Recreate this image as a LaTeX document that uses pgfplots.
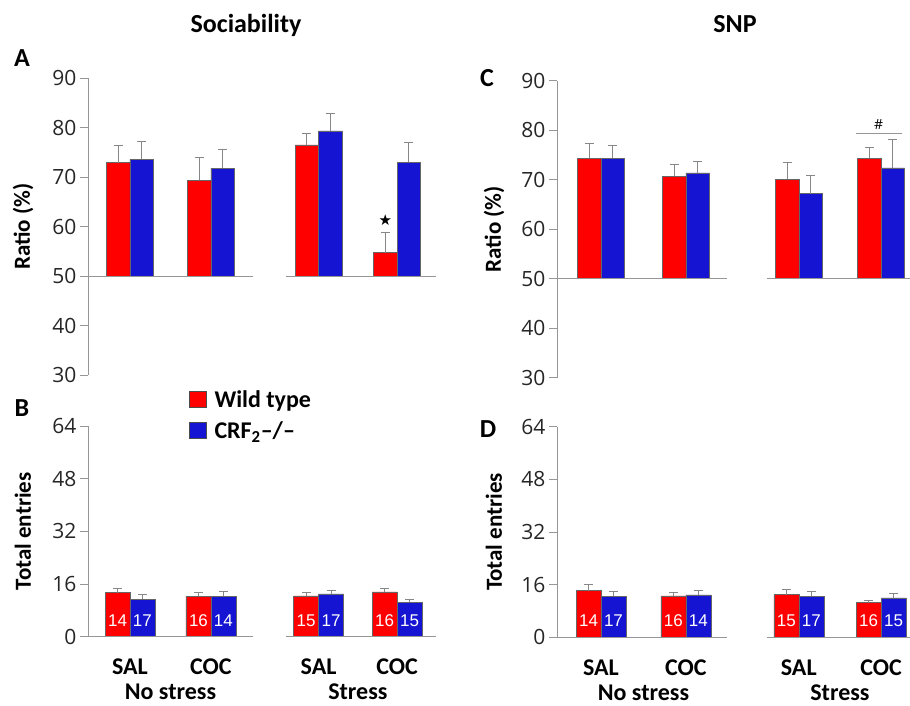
\documentclass[border=0pt]{standalone}
\usepackage{pgfplots}
\pgfplotsset{compat=1.18}
\usepackage{fontspec}
\setmainfont{Carlito}
\newfontfamily\tickfont{Open Sans}
\newfontfamily\numfont{Liberation Sans}
\newfontfamily\symfont{DejaVu Sans}
\definecolor{wt}{RGB}{255,0,0}
\definecolor{ko}{RGB}{20,20,210}
\definecolor{ax}{RGB}{150,150,150}
\definecolor{eb}{RGB}{135,135,135}
\pgfplotsset{
  panel/.style={
    scale only axis, anchor=south west, clip=false,
    axis x line=bottom, axis y line=left,
    x axis line style={draw=none},
    y axis line style={ax, line width=0.8pt, -},
    ytick style={ax, line width=0.8pt},
    xtick style={draw=none},
    tick align=outside, major tick length=8pt,
    /pgf/number format/assume math mode=true,
    yticklabel style={font=\tickfont\fontsize{21}{21}\selectfont, text=black!85},
    xticklabel style={font=\bfseries\fontsize{24}{24}\selectfont, anchor=base, yshift=-30pt},
    extra x tick style={tick label style={yshift=-25pt}},
    every axis y label/.style={at={([xshift=-65pt]rel axis cs:0,0.5)}, rotate=90, anchor=center, font=\bfseries\fontsize{23}{23}\selectfont},
    legend image code/.code={\draw[#1, draw=black!70, line width=0.6pt] (0pt,-8pt) rectangle (17pt,8pt);},
  },
  wtbar/.style={ybar, bar width=#1, bar shift=0pt, fill=wt, draw=black!60, line width=0.5pt,
    error bars/.cd, y dir=plus, y explicit, error bar style={eb, line width=0.9pt}, error mark options={eb, rotate=90, mark size=4.5pt, line width=0.9pt}},
  kobar/.style={ybar, bar width=#1, bar shift=0pt, fill=ko, draw=black!60, line width=0.5pt,
    error bars/.cd, y dir=plus, y explicit, error bar style={eb, line width=0.9pt}, error mark options={eb, rotate=90, mark size=4.5pt, line width=0.9pt}},
  nlab/.style={forget plot, only marks, mark=*, mark size=0pt, mark options={opacity=0}, nodes near coords, point meta=explicit symbolic,
    every node near coord/.append style={font=\numfont\fontsize{17}{17}\selectfont, text=white, text opacity=1, anchor=center}},
}
\begin{document}
\begin{tikzpicture}
\useasboundingbox (0pt,0pt) rectangle (910pt,-706pt);
\node[anchor=base, font=\bfseries\fontsize{26}{26}\selectfont] at (246pt,-33pt) {Sociability};
\node[anchor=base, font=\bfseries\fontsize{26}{26}\selectfont] at (735pt,-33pt) {SNP};
\node[anchor=base, font=\bfseries\fontsize{26}{26}\selectfont] at (22pt,-67pt) {A};
\node[anchor=base, font=\bfseries\fontsize{26}{26}\selectfont] at (22pt,-416pt) {B};
\node[anchor=base, font=\bfseries\fontsize{26}{26}\selectfont] at (487pt,-87pt) {C};
\node[anchor=base, font=\bfseries\fontsize{26}{26}\selectfont] at (488pt,-437pt) {D};

% ---------- A ----------
\begin{axis}[panel, at={(88pt,-375pt)}, width=348pt, height=297pt,
  xmin=-0.5185, xmax=3.78, ymin=-20, ymax=40,
  y filter/.expression={y-50},
  ytick={-20,-10,0,10,20,30,40}, yticklabels={30,40,50,60,70,80,90},
  xtick=\empty, ylabel={Ratio (\%)}]
\addplot[wtbar=0.29] coordinates {(-0.145,72.9) +=(0,3.4) (0.855,69.3) +=(0,4.6) (2.185,76.5) +=(0,2.3) (3.155,54.7) +=(0,4.0)};
\addplot[kobar=0.29] coordinates {(0.145,73.6) +=(0,3.5) (1.145,71.8) +=(0,3.8) (2.475,79.3) +=(0,3.5) (3.445,73.0) +=(0,4.0)};
\draw[ax, line width=0.8pt] (axis cs:-0.5185,0) -- (axis cs:1.52,0);
\draw[ax, line width=0.8pt] (axis cs:1.93,0) -- (axis cs:3.78,0);
\node[font=\symfont\fontsize{15}{15}\selectfont] at (axis cs:3.155,11.3) {★};
\end{axis}

% ---------- B ----------
\begin{axis}[panel, at={(88pt,-636.7pt)}, width=348pt, height=210.7pt,
  xmin=-0.5185, xmax=3.78, ymin=0, ymax=64, ytick={0,16,32,48,64},
  xtick={0,1,2.33,3.3}, xticklabels={SAL,COC,SAL,COC},
  extra x ticks={0.5,2.815}, extra x tick labels={No stress,Stress},
  ylabel={Total entries},
  legend style={at={(0.29,1.17)}, anchor=north west, draw=none, fill=none, inner sep=0pt, outer sep=0pt,
    font=\bfseries\fontsize{24}{24}\selectfont, row sep=13pt, column sep=8pt, nodes={inner sep=0pt}},
  legend cell align=left]
\addplot[wtbar=0.309] coordinates {(-0.154,13.4) +=(0,1.4) (0.846,12.3) +=(0,1.2) (2.176,12.4) +=(0,1.1) (3.146,13.6) +=(0,1.2)};
\addlegendentry{Wild type}
\addplot[kobar=0.309] coordinates {(0.154,11.4) +=(0,1.3) (1.154,12.3) +=(0,1.5) (2.484,13.0) +=(0,1.2) (3.454,10.4) +=(0,1.0)};
\addlegendentry{CRF\textsubscript{2}–/–}
\addplot[nlab] coordinates {(-0.154,5)[14] (0.846,5)[16] (2.176,5)[15] (3.146,5)[16]};
\addplot[nlab] coordinates {(0.154,5)[17] (1.154,5)[14] (2.484,5)[17] (3.454,5)[15]};
\draw[ax, line width=0.8pt] (axis cs:-0.5185,0) -- (axis cs:1.52,0);
\draw[ax, line width=0.8pt] (axis cs:1.93,0) -- (axis cs:3.78,0);
\end{axis}

% ---------- C ----------
\begin{axis}[panel, at={(557pt,-377.7pt)}, width=353pt, height=297pt,
  xmin=-0.518, xmax=3.64, ymin=-20, ymax=40,
  y filter/.expression={y-50},
  ytick={-20,-10,0,10,20,30,40}, yticklabels={30,40,50,60,70,80,90},
  xtick=\empty, ylabel={Ratio (\%)},
  every axis y label/.style={at={([xshift=-63pt]rel axis cs:0,0.5)}, rotate=90, anchor=center, font=\bfseries\fontsize{23}{23}\selectfont}]
\addplot[wtbar=0.276] coordinates {(-0.138,74.3) +=(0,3.1) (0.862,70.7) +=(0,2.3) (2.192,70.1) +=(0,3.3) (3.162,74.3) +=(0,2.3)};
\addplot[kobar=0.276] coordinates {(0.138,74.3) +=(0,2.7) (1.138,71.4) +=(0,2.2) (2.468,67.2) +=(0,3.7) (3.438,72.4) +=(0,5.8)};
\draw[ax, line width=0.8pt] (axis cs:-0.518,0) -- (axis cs:1.48,0);
\draw[ax, line width=0.8pt] (axis cs:1.95,0) -- (axis cs:3.64,0);
\draw[ax, line width=0.8pt] (axis cs:3.0,29.4) -- (axis cs:3.54,29.4);
\node[font=\tickfont\fontsize{14}{14}\selectfont, anchor=base] at (axis cs:3.27,30.2) {\#};
\end{axis}

% ---------- D ----------
\begin{axis}[panel, at={(557pt,-637.3pt)}, width=353pt, height=210.7pt,
  xmin=-0.518, xmax=3.64, ymin=0, ymax=64, ytick={0,16,32,48,64},
  xtick={0,1,2.33,3.3}, xticklabels={SAL,COC,SAL,COC},
  extra x ticks={0.5,2.815}, extra x tick labels={No stress,Stress},
  ylabel={Total entries},
  every axis y label/.style={at={([xshift=-63pt]rel axis cs:0,0.5)}, rotate=90, anchor=center, font=\bfseries\fontsize{23}{23}\selectfont}]
\addplot[wtbar=0.294] coordinates {(-0.147,14.2) +=(0,2.0) (0.853,12.6) +=(0,1.1) (2.183,13.0) +=(0,1.4) (3.153,10.5) +=(0,0.8)};
\addplot[kobar=0.294] coordinates {(0.147,12.4) +=(0,1.6) (1.147,12.9) +=(0,1.2) (2.477,12.4) +=(0,1.4) (3.447,12.0) +=(0,1.4)};
\addplot[nlab] coordinates {(-0.147,5)[14] (0.853,5)[16] (2.183,5)[15] (3.153,5)[16]};
\addplot[nlab] coordinates {(0.147,5)[17] (1.147,5)[14] (2.477,5)[17] (3.447,5)[15]};
\draw[ax, line width=0.8pt] (axis cs:-0.518,0) -- (axis cs:1.48,0);
\draw[ax, line width=0.8pt] (axis cs:1.95,0) -- (axis cs:3.64,0);
\end{axis}
\end{tikzpicture}
\end{document}
